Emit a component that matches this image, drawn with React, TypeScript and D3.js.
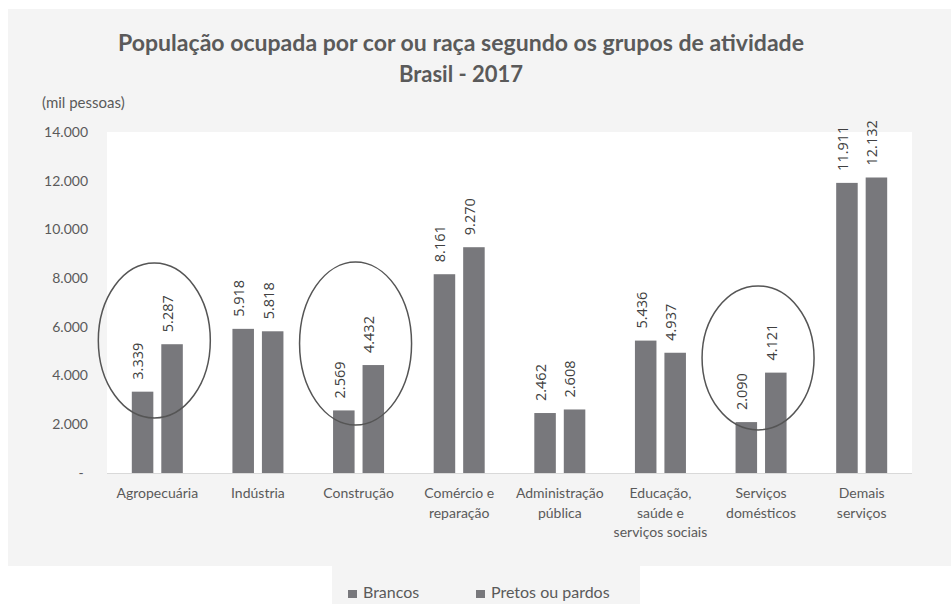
import React from "react";
import * as d3 from "d3";

const categories: string[][] = [
  ["Agropecuária"],
  ["Indústria"],
  ["Construção"],
  ["Comércio e", "reparação"],
  ["Administração", "pública"],
  ["Educação,", "saúde e", "serviços sociais"],
  ["Serviços", "domésticos"],
  ["Demais", "serviços"],
];
const seriesNames = ["Brancos", "Pretos ou pardos"];
const brancos = [3339, 5918, 2569, 8161, 2462, 5436, 2090, 11911];
const pretos = [5287, 5818, 4432, 9270, 2608, 4937, 4121, 12132];
const yTicks = [0, 2000, 4000, 6000, 8000, 10000, 12000, 14000];
// highlighted groups: category index, value range covered by ellipse
const highlightIdx = [0, 2, 6];
const highlightTop = [8620, 8660, 7680];
const highlightBottom = [2260, 1970, 1770];

const W = 951;
const H = 604;
const plot = { left: 107, right: 912, top: 132, bottom: 473 };
const BAR_COLOR = "#78787c";
const TEXT = "#5a5a5a";
const FONT = "Lato, 'Open Sans', sans-serif";

const locale = d3.formatLocale({ decimal: ",", thousands: ".", grouping: [3], currency: ["R$", ""] });
const fmt = locale.format(",.0f");

export default function App() {
  const keys = categories.map((c) => c.join(" "));
  const x0 = d3.scaleBand<string>().domain(keys).range([plot.left, plot.right]).padding(0);
  const groupW = 51;
  const x1 = d3.scaleBand<string>().domain(seriesNames).range([0, groupW]).paddingInner(0.27).paddingOuter(0);
  const y = d3.scaleLinear().domain([0, 14000]).range([plot.bottom, plot.top]);
  const series = [brancos, pretos];
  const groupOffset = (x0.bandwidth() - groupW) / 2;

  return (
    <div style={{ position: "absolute", left: 0, top: 0, width: W, height: H, background: "#fff" }}>
      <svg width={W} height={H} style={{ display: "block" }}>
        <rect x={8} y={9} width={W - 8} height={557} fill="#f4f4f4" />
        <rect x={332} y={560} width={308} height={H - 560} fill="#f4f4f4" />
        <rect x={plot.left} y={plot.top} width={plot.right - plot.left} height={plot.bottom - plot.top} fill="#ffffff" />
        <text x={461} y={51} textAnchor="middle" fontFamily={FONT} fontWeight={700} fontSize={22} fill={TEXT} textLength={686} lengthAdjust="spacingAndGlyphs">
          População ocupada por cor ou raça segundo os grupos de atividade
        </text>
        <text x={461} y={82} textAnchor="middle" fontFamily={FONT} fontWeight={700} fontSize={22} fill={TEXT}>
          Brasil - 2017
        </text>
        <text x={42} y={108} fontFamily={FONT} fontSize={15} fill={TEXT}>(mil pessoas)</text>
        {yTicks.map((t) => (
          <text key={t} x={t === 0 ? 81 : 88} y={y(t)} dy="0.35em" textAnchor={t === 0 ? "middle" : "end"} fontFamily={FONT} fontSize={14} fill={TEXT}>
            {t === 0 ? "-" : fmt(t)}
          </text>
        ))}
        <line x1={plot.left} x2={plot.right} y1={plot.bottom + 0.5} y2={plot.bottom + 0.5} stroke="#d9d9d9" strokeWidth={1} />
        {keys.map((k, i) => (
          <g key={k} transform={`translate(${x0(k)! + groupOffset},0)`}>
            {seriesNames.map((s, j) => {
              const v = series[j][i];
              const bx = x1(s)!;
              const cx = bx + x1.bandwidth() / 2;
              return (
                <g key={s}>
                  <rect x={bx} y={y(v)} width={x1.bandwidth()} height={y(0) - y(v)} fill={BAR_COLOR} />
                  <text
                    transform={`translate(${cx - 3},${y(v) - 12}) rotate(-90)`}
                    dominantBaseline="middle"
                    textAnchor="start"
                    fontFamily="'Open Sans', sans-serif"
                    fontSize={14.5}
                    fill="#404040"
                  >
                    {fmt(v)}
                  </text>
                </g>
              );
            })}
          </g>
        ))}
        {categories.map((lines, i) => (
          <text key={i} x={x0(keys[i])! + x0.bandwidth() / 2} y={498} textAnchor="middle" fontFamily={FONT} fontSize={14} fill={TEXT}>
            {lines.map((l, li) => (
              <tspan key={li} x={x0(keys[i])! + x0.bandwidth() / 2} dy={li === 0 ? 0 : 19.5}>
                {l}
              </tspan>
            ))}
          </text>
        ))}
        {highlightIdx.map((ci, k) => {
          const cx = x0(keys[ci])! + x0.bandwidth() / 2 - 3;
          const yt = y(highlightTop[k]);
          const yb = y(highlightBottom[k]);
          return (
            <ellipse key={ci} cx={cx} cy={(yt + yb) / 2} rx={56} ry={(yb - yt) / 2} fill="none" stroke="#555" strokeWidth={1.5} />
          );
        })}
        {seriesNames.map((s, j) => {
          const lx = j === 0 ? 348 : 476;
          return (
            <g key={s}>
              <rect x={lx} y={590} width={9} height={8} fill={BAR_COLOR} />
              <text x={lx + 15} y={598} fontFamily={FONT} fontSize={16} fill={TEXT}>{s}</text>
            </g>
          );
        })}
      </svg>
    </div>
  );
}
